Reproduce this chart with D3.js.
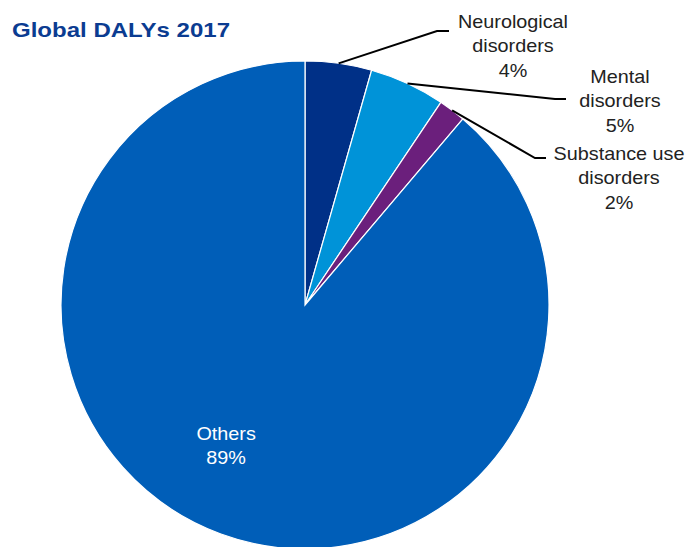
<!DOCTYPE html>
<html><head><meta charset="utf-8">
<script src="https://cdn.jsdelivr.net/npm/d3@7"></script>
<style>body{margin:0;background:#fff}svg{display:block}</style>
</head><body>
<svg id="c" width="693" height="547"></svg>
<script>
const categories = ["Neurological disorders", "Mental disorders", "Substance use disorders", "Others"];
const values = [4.4, 5.0, 1.8, 88.8];
const pctLabels = ["4%", "5%", "2%", "89%"];
const labelLines = [["Neurological", "disorders"], ["Mental", "disorders"], ["Substance use", "disorders"], ["Others"]];
const colors = ["#003087", "#0093D8", "#6B1F7C", "#005EB8"];

const W = 693, H = 547, cx = 305, cy = 305, R = 244;
// label layout (elbow point and text anchor) for outside labels
const outside = [
  {elbow: [437, 31], end: [449, 31], tx: 513, ty: 28},
  {elbow: [555, 99], end: [566, 99], tx: 620, ty: 83},
  {elbow: [535, 158], end: [546, 158], tx: 619, ty: 160}
];
const lineH = 24.5;

const svg = d3.select("#c");
svg.append("text").attr("x", 12).attr("y", 37)
  .attr("font-family", "Liberation Sans, Arial, sans-serif")
  .attr("font-weight", "bold").attr("font-size", 21).attr("fill", "#0B3C91")
  .attr("textLength", 218).attr("lengthAdjust", "spacingAndGlyphs")
  .text("Global DALYs 2017");

const pie = d3.pie().sort(null).value(d => d)(values);
const arc = d3.arc().innerRadius(0).outerRadius(R);
const g = svg.append("g").attr("transform", `translate(${cx},${cy})`);
g.selectAll("path").data(pie).join("path")
  .attr("d", arc).attr("fill", (d, i) => colors[i])
  .attr("stroke", "#fff").attr("stroke-width", 1.2);

// leader lines
pie.slice(0, 3).forEach((d, i) => {
  const a = (d.startAngle + d.endAngle) / 2;
  const sx = cx + R * Math.sin(a), sy = cy - R * Math.cos(a);
  const o = outside[i];
  svg.append("polyline")
    .attr("points", [[sx, sy], o.elbow, o.end].map(p => p.join(",")).join(" "))
    .attr("fill", "none").attr("stroke", "#000").attr("stroke-width", 2);
  const t = svg.append("text").attr("text-anchor", "middle")
    .attr("font-family", "Liberation Sans, Arial, sans-serif").attr("font-size", 18)
    .attr("fill", "#222")
    .attr("transform", `translate(${o.tx},${o.ty}) scale(1.1,1)`);
  labelLines[i].concat([pctLabels[i]]).forEach((s, k) => {
    t.append("tspan").attr("x", 0).attr("y", k * lineH).text(s);
  });
});

// Others label inside
{
  const d = pie[3];
  const a = (d.startAngle + d.endAngle) / 2 + 0.2;
  const r = 158;
  const x = cx + r * Math.sin(a), y = cy - r * Math.cos(a);
  const t = svg.append("text").attr("text-anchor", "middle")
    .attr("font-family", "Liberation Sans, Arial, sans-serif").attr("font-size", 18)
    .attr("fill", "#fff")
    .attr("transform", `translate(${x + 4},${y}) scale(1.1,1)`);
  labelLines[3].concat([pctLabels[3]]).forEach((s, k) => {
    t.append("tspan").attr("x", 0).attr("y", k * lineH).text(s);
  });
}
</script>
</body></html>
